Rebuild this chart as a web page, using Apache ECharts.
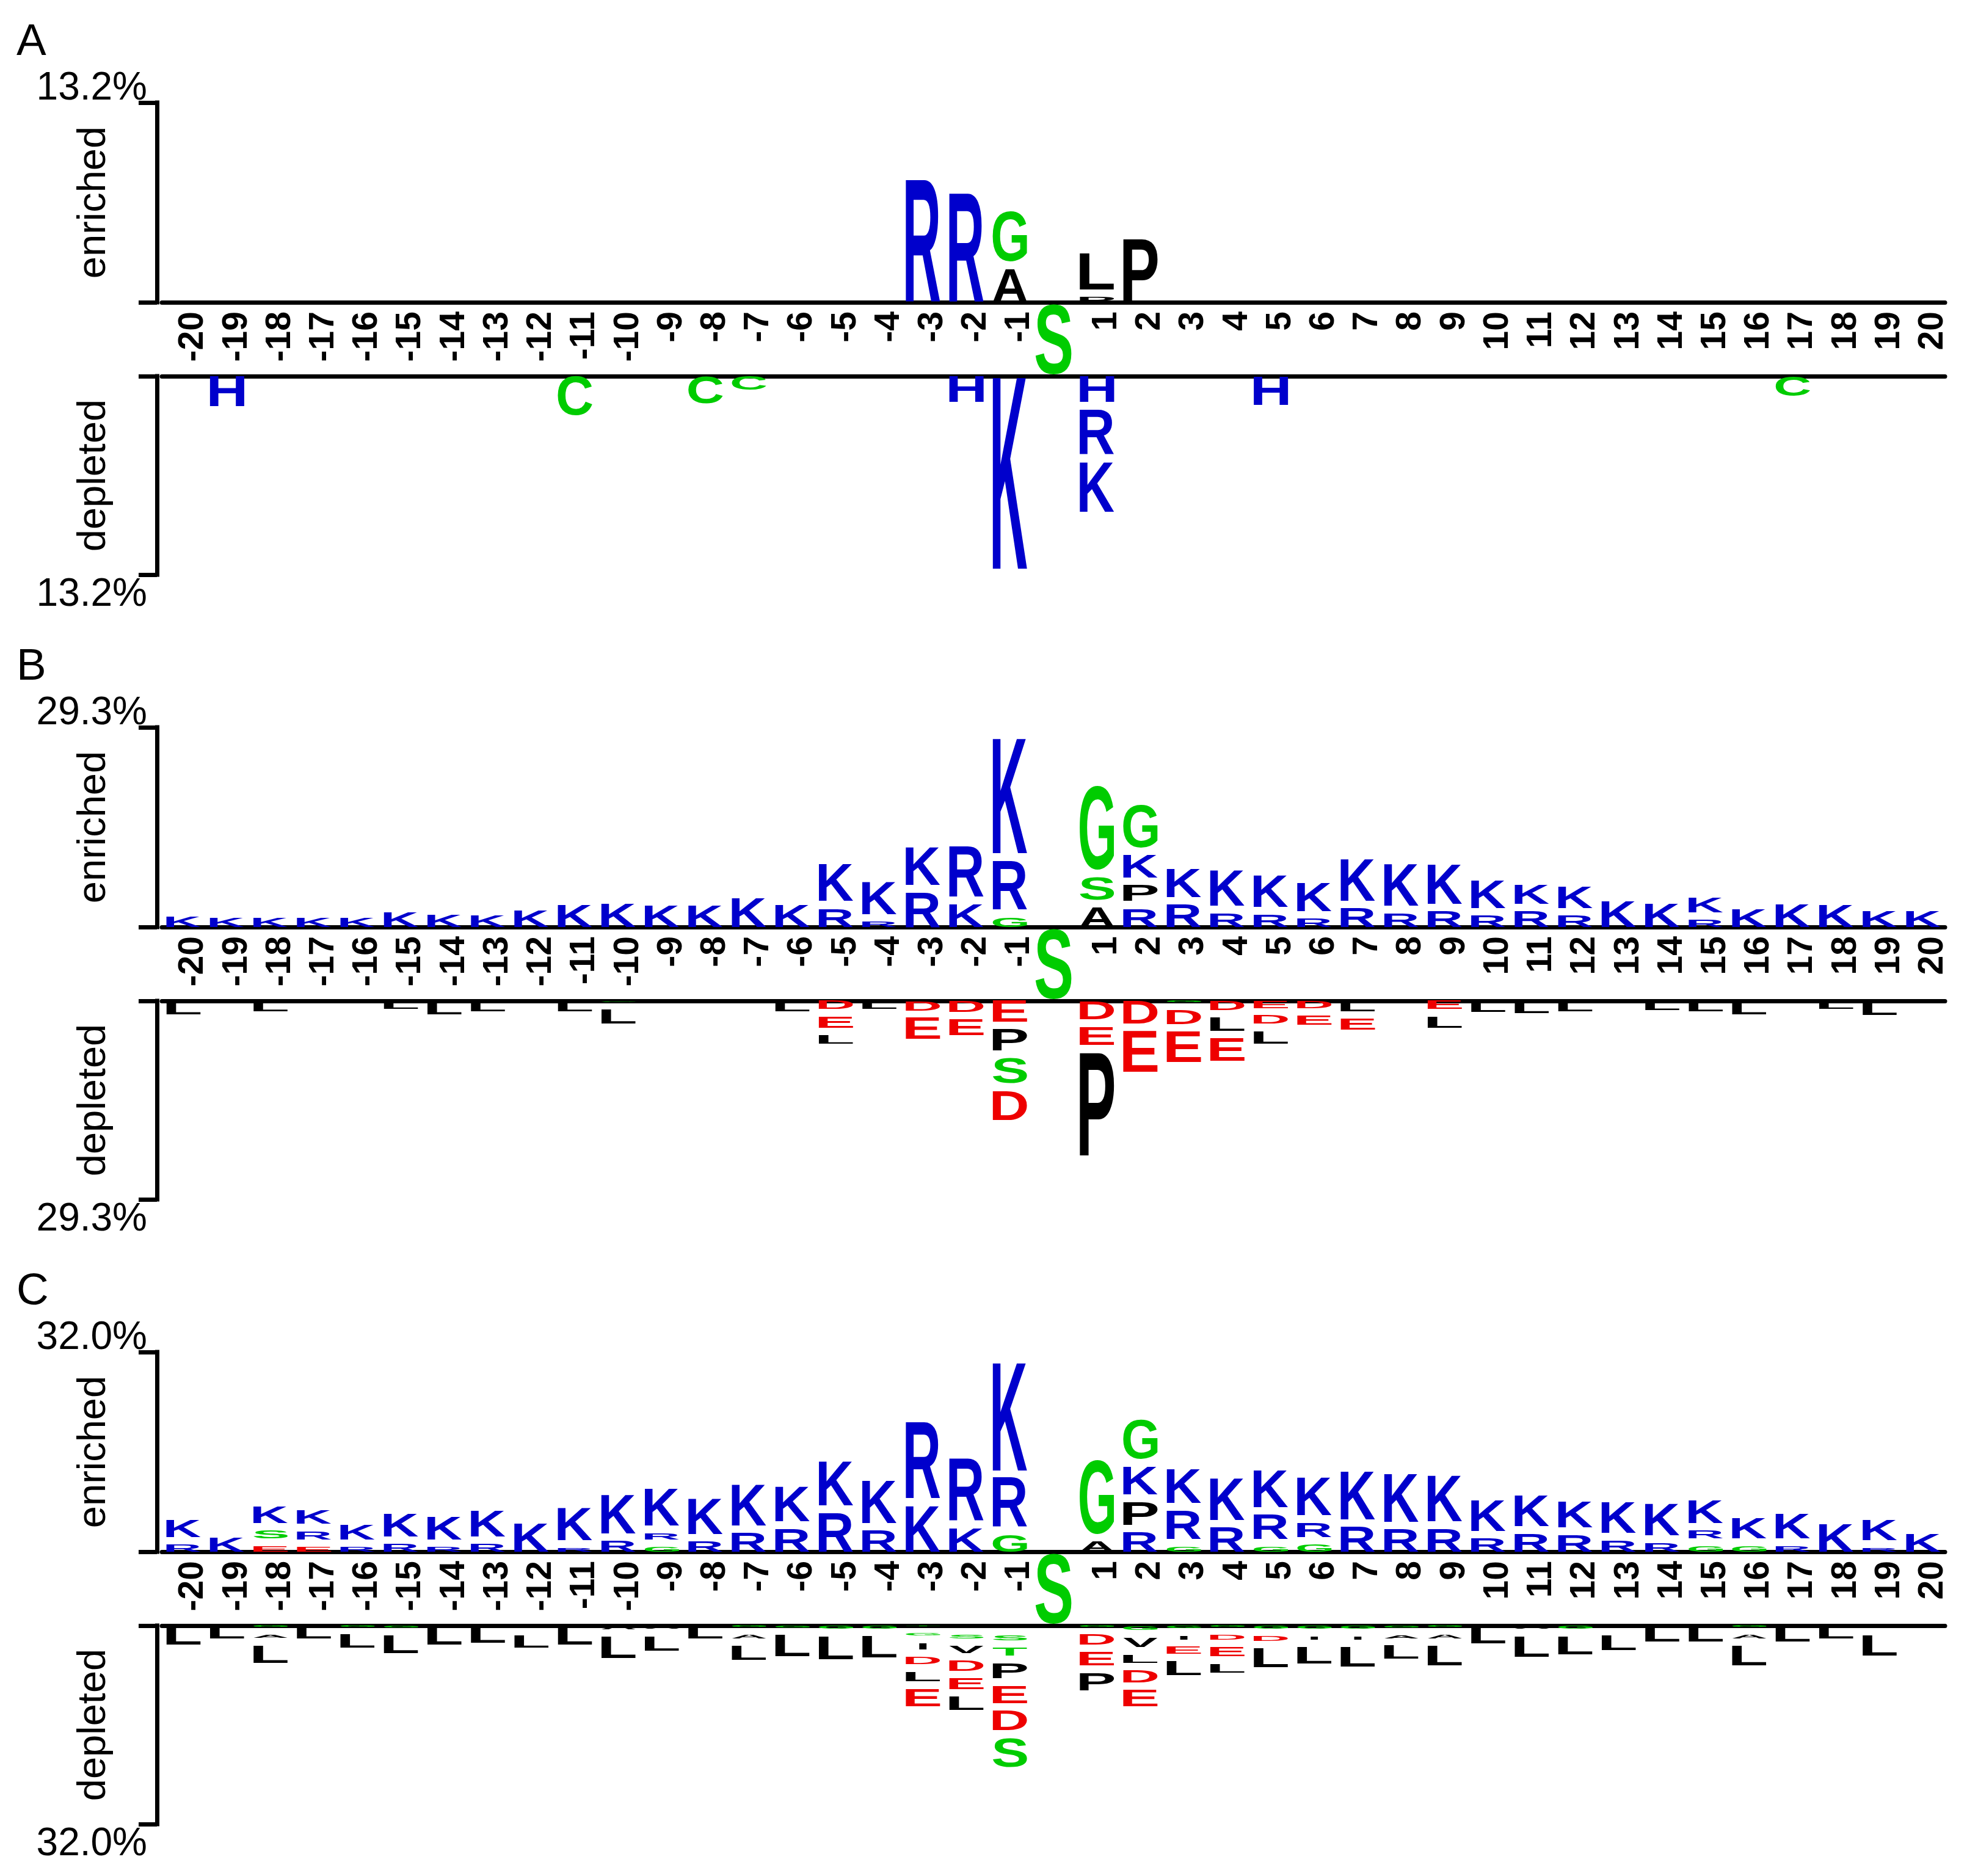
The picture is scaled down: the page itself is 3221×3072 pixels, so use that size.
<!DOCTYPE html>
<html><head><meta charset="utf-8">
<script src="https://cdn.jsdelivr.net/npm/echarts@6/dist/echarts.min.js"></script>
<style>html,body{margin:0;padding:0;background:#fff}#c{width:3221px;height:3072px}</style>
</head><body><div id="c"></div>
<script>
// ---------------- data ----------------
const positions = [];
for (let p = -20; p <= 20; p++) positions.push(String(p));
const tickLabels = positions.map(p => (p === '0' ? '' : p));
const panelNames = ['A', 'B', 'C'];
const scaleMax = [13.2, 29.3, 32.0];
const scaleLabels = ['13.2%', '29.3%', '32.0%'];
const fixedResidue = 'S';
const fixedPosition = '0';

// [position, residue, percent] — enriched: stacked upward from the baseline
const enrichedA = [
  [-3,'R',8.1],[-2,'R',7.2],[-1,'A',2.2],[-1,'G',3.3],[1,'P',0.35],[1,'L',2.4],[2,'P',4.2]
];
// depleted: stacked downward from the line
const depletedA = [
  [-19,'H',2.0],[-11,'C',2.6],[-8,'C',1.8],[-7,'C',0.9],[-2,'H',1.7],[-1,'K',12.8],
  [1,'H',1.7],[1,'R',3.0],[1,'K',3.3],[5,'H',1.9],[17,'C',1.3]
];
const enrichedB = [
  [-20,'K',1.55],[-19,'K',1.4],[-18,'K',1.4],[-17,'K',1.4],[-16,'K',1.4],[-15,'K',2.15],[-14,'K',1.85],
  [-13,'K',1.7],[-12,'K',2.45],[-11,'K',3.2],[-10,'K',3.5],[-9,'K',3.05],[-8,'K',3.05],[-7,'K',4.25],
  [-6,'K',3.2],[-5,'R',2.7],[-5,'K',5.4],[-4,'R',0.8],[-4,'K',4.7],[-3,'R',5.1],[-3,'K',5.5],
  [-2,'K',3.3],[-2,'R',7.4],[-1,'G',1.4],[-1,'R',7.2],[-1,'K',16.9],
  [1,'A',2.9],[1,'S',3.3],[1,'G',12.3],[2,'R',2.7],[2,'P',2.3],[2,'K',3.3],[2,'G',6.2],
  [3,'R',3.3],[3,'K',4.2],[4,'R',2.0],[4,'K',5.2],[5,'R',1.85],[5,'K',4.6],[6,'R',1.25],[6,'K',4.2],
  [7,'R',2.75],[7,'K',6.1],[8,'R',2.0],[8,'K',6.1],[9,'R',2.3],[9,'K',5.8],[10,'R',1.7],[10,'K',4.0],
  [11,'R',2.3],[11,'K',2.8],[12,'R',1.7],[12,'K',3.1],[13,'K',3.8],[14,'K',3.5],[15,'R',1.0],[15,'K',2.2],
  [16,'K',2.6],[17,'K',3.3],[18,'K',3.2],[19,'K',2.3],[20,'K',2.3]
];
const depletedB = [
  [-20,'L',1.95],[-18,'L',1.5],[-15,'L',1.2],[-14,'L',1.95],[-13,'L',1.5],[-11,'L',1.5],
  [-10,'G',0.15],[-10,'L',2.1],[-6,'L',1.5],
  [-5,'D',1.2],[-5,'E',1.6],[-5,'L',1.3],[-4,'L',1.2],[-3,'D',1.4],[-3,'E',3.1],[-2,'D',1.6],[-2,'E',2.3],
  [-1,'E',3.1],[-1,'P',3.1],[-1,'S',3.7],[-1,'D',4.3],
  [1,'D',2.7],[1,'E',2.7],[1,'P',15.2],[2,'D',3.3],[2,'E',6.0],[3,'G',0.2],[3,'D',2.1],[3,'E',4.5],
  [4,'D',1.35],[4,'L',1.95],[4,'E',3.3],[5,'E',1.05],[5,'D',1.2],[5,'L',1.8],[6,'D',1.05],[6,'E',1.35],
  [7,'L',1.5],[7,'E',1.65],[9,'E',1.2],[9,'L',1.6],[10,'L',1.65],[11,'L',1.8],[12,'L',1.5],
  [14,'L',1.35],[15,'L',1.5],[16,'L',1.95],[18,'L',1.2],[19,'L',2.1]
];
const enrichedC = [
  [-20,'R',1.1],[-20,'K',2.8],[-19,'K',2.2],[-18,'E',0.9],[-18,'S',1.3],[-18,'K',2.6],
  [-17,'E',0.75],[-17,'R',1.3],[-17,'K',2.1],[-16,'R',0.75],[-16,'K',2.4],[-15,'R',1.2],[-15,'K',3.6],
  [-14,'R',0.75],[-14,'K',3.6],[-13,'R',1.2],[-13,'K',4.1],[-12,'K',4.5],[-11,'R',0.6],[-11,'K',5.2],
  [-10,'R',1.7],[-10,'K',6.2],[-9,'G',0.75],[-9,'R',1.0],[-9,'K',5.9],[-8,'R',1.6],[-8,'K',5.7],
  [-7,'R',3.0],[-7,'K',6.5],[-6,'R',3.7],[-6,'K',5.5],[-5,'R',6.2],[-5,'K',7.0],[-4,'R',3.4],[-4,'K',6.8],
  [-3,'K',7.3],[-3,'R',12.2],[-2,'K',3.8],[-2,'R',10.0],[-1,'G',2.7],[-1,'R',7.9],[-1,'K',17.3],
  [1,'A',1.6],[1,'G',11.8],[2,'R',3.1],[2,'P',3.7],[2,'K',4.4],[2,'G',6.3],
  [3,'G',0.8],[3,'R',4.6],[3,'K',5.4],[4,'R',3.9],[4,'K',6.7],[5,'G',0.8],[5,'R',3.9],[5,'K',5.9],
  [6,'G',1.1],[6,'R',2.3],[6,'K',6.0],[7,'R',4.0],[7,'K',7.7],[8,'R',3.6],[8,'K',7.7],[9,'R',3.7],[9,'K',7.3],
  [10,'R',2.1],[10,'K',4.9],[11,'R',2.9],[11,'K',4.9],[12,'R',2.7],[12,'K',4.1],[13,'R',1.8],[13,'K',4.9],
  [14,'R',1.4],[14,'K',5.1],[15,'G',0.9],[15,'R',1.3],[15,'K',3.6],[16,'G',0.9],[16,'K',3.3],
  [17,'R',0.9],[17,'K',3.9],[18,'K',4.4],[19,'R',0.6],[19,'K',3.3],[20,'K',2.9]
];
const depletedC = [
  [-20,'L',3.1],[-19,'L',2.1],[-18,'G',0.2],[-18,'A',0.5],[-18,'L',2.8],[-17,'L',2.1],
  [-16,'G',0.2],[-16,'L',2.1],[-15,'G',0.3],[-15,'L',2.9],[-14,'L',3.1],[-13,'L',2.8],
  [-12,'A',0.3],[-12,'L',2.0],[-11,'L',3.1],[-10,'A',0.6],[-10,'L',3.4],[-9,'A',0.5],[-9,'L',2.3],
  [-8,'L',2.1],[-7,'G',0.2],[-7,'A',0.6],[-7,'L',2.3],[-6,'G',0.3],[-6,'L',3.4],
  [-5,'G',0.5],[-5,'L',3.7],[-4,'G',0.5],[-4,'L',3.4],
  [-3,'T',0.05],[-3,'G',0.33],[-3,'I',1.0],[-3,'D',1.15],[-3,'L',1.5],[-3,'E',2.8],
  [-2,'A',0.2],[-2,'S',0.65],[-2,'V',1.1],[-2,'D',1.6],[-2,'E',1.8],[-2,'L',2.1],
  [-1,'A',0.3],[-1,'S',0.8],[-1,'T',1.3],[-1,'P',2.4],[-1,'E',2.8],[-1,'D',3.1],[-1,'S',4.7],
  [1,'G',0.2],[1,'D',1.6],[1,'E',2.1],[1,'P',2.8],
  [2,'G',0.7],[2,'V',1.5],[2,'L',1.3],[2,'D',2.0],[2,'E',2.6],
  [3,'G',0.4],[3,'I',0.6],[3,'E',1.1],[3,'L',2.2],[4,'G',0.2],[4,'D',0.8],[4,'E',1.5],[4,'L',1.4],
  [5,'G',0.5],[5,'D',0.7],[5,'L',3.0],[6,'G',0.5],[6,'I',0.5],[6,'L',2.6],[7,'G',0.5],[7,'I',0.5],[7,'L',3.1],
  [8,'G',0.3],[8,'A',0.5],[8,'L',2.1],[9,'G',0.2],[9,'A',0.6],[9,'L',3.1],[10,'L',2.9],
  [11,'A',0.5],[11,'L',3.3],[12,'G',0.5],[12,'L',2.9],[13,'A',0.3],[13,'L',2.4],[14,'L',2.6],
  [15,'L',2.6],[16,'G',0.2],[16,'A',0.6],[16,'L',3.1],[17,'L',2.6],[18,'L',2.1],[19,'A',0.3],[19,'L',3.3]
];
const enrichedSets = [enrichedA, enrichedB, enrichedC];
const depletedSets = [depletedA, depletedB, depletedC];

// ---------------- style ----------------
const FONT = '"Liberation Sans", Arial, sans-serif';
const GLYPH_FONT = 'bold 200px "Liberation Sans"';
const LETTER_W = 0.79;
const NARROW = {I: 0.22};
const GAP = 12.5;
const BLUE = '#0000cc', GREEN = '#00cc00', RED = '#ee0000', BLACK = '#000000';
function colorOf(ch) {
  if ('KRH'.includes(ch)) return BLUE;
  if ('DE'.includes(ch)) return RED;
  if ('GSTCYNQ'.includes(ch)) return GREEN;
  return BLACK;
}
const mctx = document.createElement('canvas').getContext('2d');
const inkCache = {};
function ink(ch) {
  if (!inkCache[ch]) {
    mctx.font = GLYPH_FONT;
    mctx.textAlign = 'left';
    mctx.textBaseline = 'middle';
    const m = mctx.measureText(ch);
    inkCache[ch] = {L: m.actualBoundingBoxLeft, R: m.actualBoundingBoxRight,
                    A: m.actualBoundingBoxAscent, D: m.actualBoundingBoxDescent};
  }
  return inkCache[ch];
}
function glyph(ch, x0, x1, y0, y1, fill) {
  const m = ink(ch);
  const sx = (x1 - x0) / (m.L + m.R);
  const sy = Math.max(y1 - y0, 0.01) / (m.A + m.D);
  return {
    type: 'text', x: x0 + sx * m.L, y: y0 + sy * m.A, scaleX: sx, scaleY: sy,
    style: {text: ch, x: 0, y: 0, fill: fill, font: GLYPH_FONT,
            align: 'left', verticalAlign: 'middle', textAlign: 'left', textVerticalAlign: 'middle'}
  };
}
function columns(set) {
  const map = new Map();
  set.forEach(([p, ch, v]) => {
    const idx = positions.indexOf(String(p));
    if (!map.has(idx)) map.set(idx, []);
    map.get(idx).push([ch, v]);
  });
  return Array.from(map.entries()).map(([idx, letters]) => ({idx, letters}));
}
function logoSeries(set, xi, up) {
  const cols = columns(set);
  return {
    type: 'custom', xAxisIndex: xi, yAxisIndex: xi, silent: true, clip: false,
    data: cols.map(c => [c.idx, c.letters.reduce((s, l) => s + l[1], 0)]),
    renderItem: function (params, api) {
      const col = cols[params.dataIndex];
      const base = api.coord([col.idx, 0]);
      const pitch = Math.abs(api.size([1, 0])[0]);
      let cursor = base[1];
      const children = [];
      col.letters.forEach(([ch, v]) => {
        const w = pitch * LETTER_W * (NARROW[ch] || 1);
        const h = Math.abs(api.size([0, v])[1]);
        let y0, y1;
        if (up) { y1 = cursor; y0 = cursor - h; cursor = y0 - GAP; }
        else { y0 = cursor; y1 = cursor + h; cursor = y1 + GAP; }
        children.push(glyph(ch, base[0] - w / 2, base[0] + w / 2, y0, y1, colorOf(ch)));
      });
      return {type: 'group', children};
    }
  };
}
function fixedSeries(xi) {
  return {
    type: 'custom', xAxisIndex: xi, yAxisIndex: xi, silent: true, clip: false, z: 5,
    data: [[positions.indexOf(fixedPosition), 1]],
    renderItem: function (params, api) {
      const idx = api.value(0);
      const top = api.coord([idx, 1]), bot = api.coord([idx, 0]);
      const w = Math.abs(api.size([1, 0])[0]) * 0.83;
      return glyph(fixedResidue, top[0] - w / 2, top[0] + w / 2, top[1] + 4, bot[1] - 3, GREEN);
    }
  };
}

// ---------------- layout ----------------
const LEFT = 265, WIDTH = 2920, LABEL_SHIFT = 16;
const PANEL_TOP = 168, PANEL_STEP = 1023, H_ENR = 327, H_GAP = 121, H_DEP = 325;
const grid = [], xAxis = [], yAxis = [], series = [], title = [];
const axisLineStyle = {color: '#000', width: 7, cap: 'square'};

panelNames.forEach((name, p) => {
  const T = PANEL_TOP + p * PANEL_STEP;
  const M = scaleMax[p];
  title.push({text: name, left: 22, top: T - 140,
    textStyle: {fontSize: 73, fontWeight: 'normal', color: '#000', fontFamily: FONT}});
  const base = grid.length;
  grid.push({left: LEFT, width: WIDTH, top: T, height: H_ENR});
  grid.push({left: LEFT, width: WIDTH, top: T + H_ENR, height: H_GAP});
  grid.push({left: LEFT + LABEL_SHIFT, width: WIDTH, top: T + H_ENR, height: H_GAP});
  grid.push({left: LEFT, width: WIDTH, top: T + H_ENR + H_GAP, height: H_DEP});

  const scaleAxis = (gi, inverse, nm) => ({
    gridIndex: gi, type: 'value', min: 0, max: M, interval: M, inverse: inverse, offset: 8,
    axisLine: {show: true, onZero: false, lineStyle: axisLineStyle},
    axisTick: {show: true, length: 30, lineStyle: {color: '#000', width: 7}},
    splitLine: {show: false},
    axisLabel: {formatter: v => (Math.abs(v - M) < 1e-9 ? scaleLabels[p] : ''),
      verticalAlign: inverse ? 'top' : 'bottom', lineHeight: inverse ? 66 : 46,
      margin: 16, fontSize: 64, color: '#000', fontFamily: FONT},
    name: nm, nameLocation: 'middle', nameRotate: 90, nameGap: 70, nameMoveOverlap: false,
    nameTextStyle: {fontSize: 65, color: '#000', fontFamily: FONT}
  });

  xAxis.push({gridIndex: base, type: 'category', data: positions, position: 'bottom',
    axisLine: {show: true, onZero: false, lineStyle: {color: '#000', width: 7}},
    axisTick: {show: false}, axisLabel: {show: false}});
  yAxis.push(scaleAxis(base, false, 'enriched'));

  xAxis.push({gridIndex: base + 1, type: 'category', data: positions, show: false});
  yAxis.push({gridIndex: base + 1, type: 'value', min: 0, max: 1, show: false});

  xAxis.push({gridIndex: base + 2, type: 'category', data: tickLabels, position: 'top',
    axisLine: {show: false}, axisTick: {show: false},
    axisLabel: {inside: true, rotate: 90, margin: 15, interval: 0, fontSize: 57,
      fontWeight: 'bold', color: '#000', fontFamily: FONT}});
  yAxis.push({gridIndex: base + 2, type: 'value', min: 0, max: 1, show: false});

  xAxis.push({gridIndex: base + 3, type: 'category', data: positions, position: 'top',
    axisLine: {show: true, onZero: false, lineStyle: {color: '#000', width: 7}},
    axisTick: {show: false}, axisLabel: {show: false}});
  yAxis.push(scaleAxis(base + 3, true, 'depleted'));

  series.push(logoSeries(enrichedSets[p], base, true));
  series.push(fixedSeries(base + 1));
  series.push(logoSeries(depletedSets[p], base + 3, false));
});

const chart = echarts.init(document.getElementById('c'), null, {renderer: 'canvas'});
chart.setOption({
  animation: false, backgroundColor: '#fff',
  textStyle: {fontFamily: FONT},
  title, grid, xAxis, yAxis, series
});
</script></body></html>
